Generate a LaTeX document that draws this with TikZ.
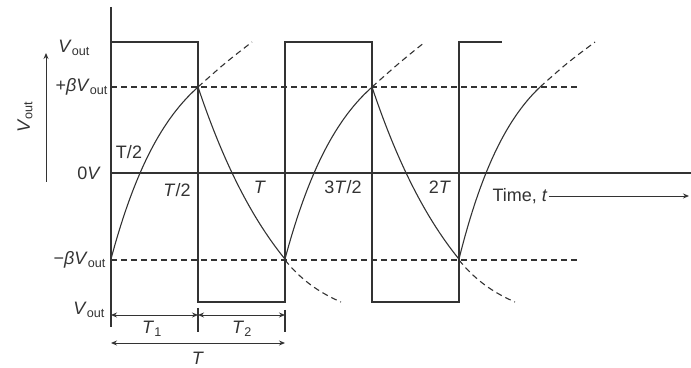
\documentclass[tikz,border=0pt]{standalone}
\usepackage{fontspec}
\setmainfont{Liberation Sans}
\usepackage{tikz}
\usetikzlibrary{arrows.meta, positioning}
\definecolor{wfInk}{HTML}{333333}

\begin{document}
\begin{tikzpicture}[
  x=1pt, y=1pt,
  axis/.style={line width=1.1pt, color=wfInk},
  wave/.style={line width=1.1pt, color=wfInk},
  guide/.style={dash pattern=on 6pt off 4pt, line width=1.1pt, color=wfInk},
  lbl/.style={font=\fontsize{18}{20}\selectfont, text=wfInk, inner sep=1pt},
  dim/.style={{Stealth[length=6pt, width=5pt]}-{Stealth[length=6pt, width=5pt]}, line width=0.9pt, color=wfInk},
  arr/.style={-{Stealth[length=6pt, width=5pt]}, line width=0.9pt, color=wfInk},
]
\useasboundingbox (0,0) rectangle (691,367);

% Axes
\coordinate (top) at (111,360);
\coordinate (bot) at (111,40);
\coordinate (O)   at (111,194);
\coordinate (zend) at (691,194);
\draw[axis] (top) -- (bot);
\draw[axis] (O) -- (zend);

% Square wave
\draw[wave] (111,325) -- (198,325) -- (198,65) -- (285,65) -- (285,325)
  -- (372,325) -- (372,65) -- (459,65) -- (459,325) -- (502,325);

% Threshold levels
\draw[guide] (111,280) -- (580,280);
\draw[guide] (111,107) -- (580,107);

% Capacitor voltage
\draw[wave] plot[domain=0:87, samples=40, smooth] ({111+\x},{333-225*exp(-\x/60.3)});
\draw[wave] plot[domain=0:87, samples=40, smooth] ({198+\x},{-12+292*exp(-\x/97.7)});
\draw[wave] plot[domain=0:87, samples=40, smooth] ({285+\x},{333-225*exp(-\x/60.3)});
\draw[wave] plot[domain=0:87, samples=40, smooth] ({372+\x},{-12+292*exp(-\x/97.7)});
\draw[wave] plot[domain=0:87, samples=40, smooth] ({459+0.93*\x},{333-225*exp(-\x/60.3)});

\draw[guide] (198,280) .. controls (225,304) .. (252,325);
\draw[guide] (285,107) .. controls (301,87) and (320,74) .. (341,65);
\draw[guide] (372,280) .. controls (399,304) .. (425,325);
\draw[guide] (459,107) .. controls (475,87) and (494,74) .. (515,65);
\draw[guide] (540,280) .. controls (567,304) .. (595,325);

% Level labels
\node[lbl, anchor=east] (vhi) at (91,319) {\textit{V}\textsubscript{out}};
\node[lbl, anchor=east] (vpb) at (109,280) {+\textit{β}\textit{V}\textsubscript{out}};
\node[lbl, anchor=east] (vz)  at (102,194) {0\textit{V}};
\node[lbl, anchor=east] (vnb) at (107,107) {−\textit{β}\textit{V}\textsubscript{out}};
\node[lbl, anchor=east] (vlo) at (106,57) {\textit{V}\textsubscript{out}};

% Vertical axis name
\node[lbl, rotate=90] (vname) at (25,250) {\textit{V}\textsubscript{out}};
\coordinate (vup0) at (46,185);
\coordinate (vup1) at (46,314);
\draw[arr] (vup0) -- (vup1);

% Time marks
\node[lbl] (th0) at (129,215) {T/2};
\node[lbl] (th1) at (177,177) {\textit{T}/2};
\node[lbl] (t1)  at (260,180) {\textit{T}};
\node[lbl] (th3) at (343,180) {3\textit{T}/2};
\node[lbl] (t2)  at (440,180) {2\textit{T}};
\node[lbl] (time) at (520,171) {Time, \textit{t}};
\coordinate (tend) at (689,171);
\draw[arr] (time.east) -- (tend);

% Period dimensions
\coordinate (k1a) at (198,59);
\coordinate (k1b) at (198,35);
\coordinate (k2a) at (285,57);
\coordinate (k2b) at (285,35);
\draw[axis] (k1a) -- (k1b);
\draw[axis] (k2a) -- (k2b);
\coordinate (d0) at (111,52);
\coordinate (d1) at (198,52);
\coordinate (d2) at (285,52);
\draw[dim] (d0) -- (d1);
\draw[dim] (d1) -- (d2);
\node[lbl] (T1) at (152,38) {\textit{T}\textsubscript{1}};
\node[lbl] (T2) at (242,38) {\textit{T}\textsubscript{2}};
\coordinate (p0) at (111,24);
\coordinate (p1) at (285,24);
\draw[dim] (p0) -- (p1);
\node[lbl] (Tp) at (198,9) {\textit{T}};

\end{tikzpicture}
\end{document}
